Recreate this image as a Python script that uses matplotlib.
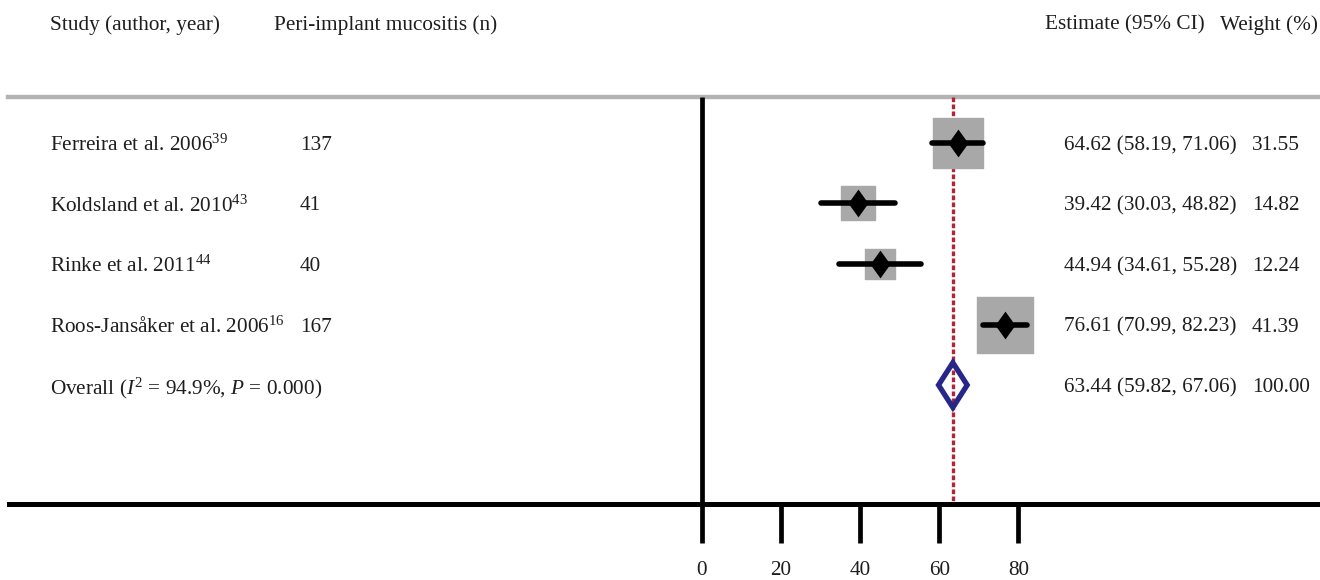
import matplotlib
matplotlib.use("Agg")
import matplotlib.pyplot as plt
from matplotlib.patches import Polygon

plt.rcParams['font.family'] = 'Liberation Serif'
plt.rcParams['mathtext.fontset'] = 'custom'
plt.rcParams['mathtext.rm'] = 'Liberation Serif'
plt.rcParams['mathtext.it'] = 'Liberation Serif:italic'

# study level data
studies = ["Ferreira et al. 2006$^{39}$",
           "Koldsland et al. 2010$^{43}$",
           "Rinke et al. 2011$^{44}$",
           "Roos-Jansåker et al. 2006$^{16}$"]
n_cases = [137, 41, 40, 167]
estimate = [64.62, 39.42, 44.94, 76.61]
ci_low = [58.19, 30.03, 34.61, 70.99]
ci_high = [71.06, 48.82, 55.28, 82.23]
weight = [31.55, 14.82, 12.24, 41.39]

# pooled result
overall_est = 63.44
overall_low = 59.82
overall_high = 67.06
overall_weight = 100.00
i2 = 94.9
p_value = 0.000

xticks = [0, 20, 40, 60, 80]

fs = 15.3
txt_col = '#1e1e1e'

fig = plt.figure(figsize=(13.2, 5.8), dpi=100)
ax = fig.add_axes([0, 0, 1, 1])
ax.set_xlim(-177.3, 156.2)
ax.set_ylim(7.22, -2.36)
ax.axis('off')

top_y = -0.76      # grey rule under the header
axis_y = 5.97      # black x axis
tick_end = 6.61
label_y = 7.06
head_y = -1.95

tr = ax.get_yaxis_transform()

# header
ax.text(0.038, head_y, "Study (author, year)", transform=tr, fontsize=fs,
        va='center', ha='left', color=txt_col)
ax.text(0.2076, head_y, "Peri-implant mucositis (n)", transform=tr, fontsize=fs,
        va='center', ha='left', color=txt_col)
ax.text(0.7917, head_y, "Estimate (95% CI)", transform=tr, fontsize=fs,
        va='center', ha='left', color=txt_col)
ax.text(0.9242, head_y, "Weight (%)", transform=tr, fontsize=fs,
        va='center', ha='left', color=txt_col)

ax.axhline(top_y, xmin=0.006, xmax=1, color='#b3b3b3', lw=3.2, zorder=1)

# reference line at 0 and pooled estimate line
ax.vlines(0, top_y, tick_end, color='black', lw=3.4, zorder=2)
ax.vlines(overall_est, top_y, axis_y, color='#b3243a', lw=2.4,
          linestyles=(0, (1.4, 0.7)), zorder=2)

rows = list(range(len(studies)))
diamond = [(0, 1), (0.72, 0), (0, -1), (-0.72, 0)]
for r in rows:
    ax.scatter(estimate[r], r, s=40 * weight[r], marker='s', color='#a8a8a8',
               edgecolors='#a8a8a8', linewidths=1.0, zorder=3)
    ax.plot([ci_low[r], ci_high[r]], [r, r], color='black', lw=4.0,
            solid_capstyle='round', zorder=4)
    ax.plot(estimate[r], r, marker=diamond, markersize=20, color='black',
            markeredgewidth=0, zorder=5)
    ax.text(0.038, r, studies[r], transform=tr, fontsize=fs,
            va='center_baseline', ha='left', color=txt_col)
    ax.text(0.2273, r, str(n_cases[r]), transform=tr, fontsize=fs,
            va='center_baseline', ha='left', color=txt_col)
    ax.text(0.806, r, "%.2f (%.2f, %.2f)" % (estimate[r], ci_low[r], ci_high[r]),
            transform=tr, fontsize=fs, va='center_baseline', ha='left', color=txt_col)
    ax.text(0.9485, r, "%.2f" % weight[r], transform=tr, fontsize=fs,
            va='center_baseline', ha='left', color=txt_col)

# overall diamond
r_o = len(studies)
h = 0.37
poly = Polygon([(overall_low, r_o), (overall_est, r_o - h),
                (overall_high, r_o), (overall_est, r_o + h)],
               closed=True, fill=False, edgecolor='#27278a', lw=3.8, zorder=5)
ax.add_patch(poly)
ax.text(0.038, r_o, "Overall ($I^2$ = %.1f%%, $P$ = %.3f)" % (i2, p_value),
        transform=tr, fontsize=fs, va='center_baseline', ha='left', color=txt_col)
ax.text(0.806, r_o, "%.2f (%.2f, %.2f)" % (overall_est, overall_low, overall_high),
        transform=tr, fontsize=fs, va='center_baseline', ha='left', color=txt_col)
ax.text(0.9485, r_o, "%.2f" % overall_weight, transform=tr, fontsize=fs,
        va='center_baseline', ha='left', color=txt_col)

# x axis
ax.axhline(axis_y, xmin=0.007, xmax=1, color='black', lw=3.6, zorder=2)
ax.vlines(xticks[1:], axis_y, tick_end, color='black', lw=3.4, zorder=2)
for t in xticks:
    ax.text(t, label_y, str(t), fontsize=fs, ha='center', va='center', color=txt_col)

fig.savefig('out.png', dpi=100)
